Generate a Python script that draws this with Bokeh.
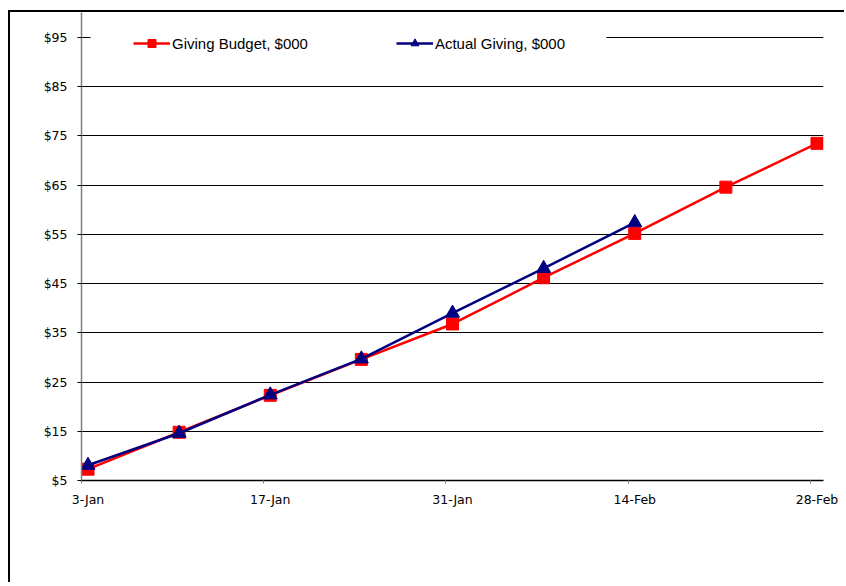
import pandas as pd
from bokeh.plotting import figure
from bokeh.models import (FixedTicker, LinearAxis, Range1d, Legend, LegendItem,
                          BoxAnnotation, Grid)
from bokeh.embed import file_html
from bokeh.resources import INLINE

# ---- data ----
budget_dates = ["2009-01-03", "2009-01-10", "2009-01-17", "2009-01-24", "2009-01-31",
                "2009-02-07", "2009-02-14", "2009-02-21", "2009-02-28"]
budget_values = [7.3, 14.8, 22.3, 29.6, 36.8, 46.2, 55.2, 64.6, 73.5]
actual_dates = ["2009-01-03", "2009-01-10", "2009-01-17", "2009-01-24", "2009-01-31",
                "2009-02-07", "2009-02-14"]
actual_values = [8.1, 14.6, 22.4, 29.7, 39.0, 48.1, 57.4]
x_tick_dates = ["2009-01-03", "2009-01-17", "2009-01-31", "2009-02-14", "2009-02-28"]
x_tick_labels = ["3-Jan", "17-Jan", "31-Jan", "14-Feb", "28-Feb"]
y_ticks = [5, 15, 25, 35, 45, 55, 65, 75, 85, 95]
y_tick_labels = ["$5", "$15", "$25", "$35", "$45", "$55", "$65", "$75", "$85", "$95"]

DAY = 86400000.0
EPOCH = pd.Timestamp("1970-01-01")


def ms(d):
    return (pd.Timestamp(d) - EPOCH).total_seconds() * 1000.0


bx = [ms(d) + DAY / 2 for d in budget_dates]
ax_ = [ms(d) + DAY / 2 for d in actual_dates]
tick_ms = [ms(d) for d in x_tick_dates]
label_ms = [t + DAY / 2 for t in tick_ms]

x0 = ms(x_tick_dates[0])
x1 = ms(x_tick_dates[-1]) + DAY

AXFONT = "DejaVu Sans"

p = figure(width=836, height=572, output_backend="svg", toolbar_location=None,
           x_axis_type=None, y_axis_type=None,
           x_range=Range1d(x0, x1), y_range=Range1d(5, 100.08),
           min_border_left=71, min_border_right=23, min_border_top=0,
           min_border_bottom=104)
p.outline_line_color = None
p.background_fill_color = "white"
p.border_fill_color = "white"
p.styles = {"border-left": "2px solid black", "border-top": "2px solid black",
            "margin-top": "10px", "margin-left": "8px"}

# grid
p.add_layout(Grid(dimension=1, ticker=FixedTicker(ticks=y_ticks),
                  grid_line_color="black", grid_line_width=1))

# y axis
yax = LinearAxis(ticker=FixedTicker(ticks=y_ticks),
                 major_label_overrides={t: l for t, l in zip(y_ticks, y_tick_labels)})
yax.axis_line_color = "#808080"
yax.axis_line_width = 1.5
yax.major_tick_line_color = "black"
yax.major_tick_out = 4
yax.major_tick_in = 0
yax.minor_tick_line_color = None
yax.major_label_standoff = 10
yax.major_label_text_font = AXFONT
yax.major_label_text_font_size = "12.5px"
yax.major_label_text_color = "black"
p.add_layout(yax, "left")

# x axis: ticks at day boundaries
xa = LinearAxis(ticker=FixedTicker(ticks=tick_ms),
                major_label_overrides={t: "" for t in tick_ms})
xa.axis_line_color = "black"
xa.axis_line_width = 1.5
xa.major_tick_line_color = "#808080"
xa.major_tick_out = 3
xa.major_tick_in = 0
xa.minor_tick_line_color = None
xa.major_label_standoff = 0
xa.major_label_text_font_size = "1px"
p.add_layout(xa, "below")

# x axis labels centred in the day
xb = LinearAxis(ticker=FixedTicker(ticks=label_ms),
                major_label_overrides={t: l for t, l in zip(label_ms, x_tick_labels)})
xb.axis_line_color = None
xb.major_tick_line_color = None
xb.minor_tick_line_color = None
xb.major_label_standoff = 2
xb.major_label_text_font = AXFONT
xb.major_label_text_font_size = "12.5px"
xb.major_label_text_color = "black"
p.add_layout(xb, "below")

# series
rb_l = p.line(bx, budget_values, line_color="#FF0000", line_width=2.5)
rb_s = p.scatter(bx, budget_values, marker="square", size=12,
                 fill_color="#FF0000", line_color="#FF0000")
ra_l = p.line(ax_, actual_values, line_color="#000080", line_width=2.5)
ra_s = p.scatter(ax_, actual_values, marker="triangle", size=14,
                 fill_color="#000080", line_color="#000080")

# white legend backdrop hiding part of the top gridline
p.add_layout(BoxAnnotation(left=x0 + 0.69 * DAY, right=x0 + 40.32 * DAY,
                           bottom=90.6, top=100.08, fill_color="white",
                           fill_alpha=1.0, line_color=None))

legend = Legend(items=[LegendItem(label="Giving Budget, $000", renderers=[rb_l, rb_s]),
                       LegendItem(label="Actual Giving, $000", renderers=[ra_l, ra_s])],
                orientation="horizontal", location=(52, 427), padding=6,
                spacing=88, glyph_width=37, glyph_height=20, label_standoff=2,
                background_fill_alpha=0, border_line_color=None,
                label_text_font="Liberation Sans", label_text_font_size="15px",
                label_text_color="black")
p.add_layout(legend)

open("out.html", "w").write(file_html(p, INLINE))
